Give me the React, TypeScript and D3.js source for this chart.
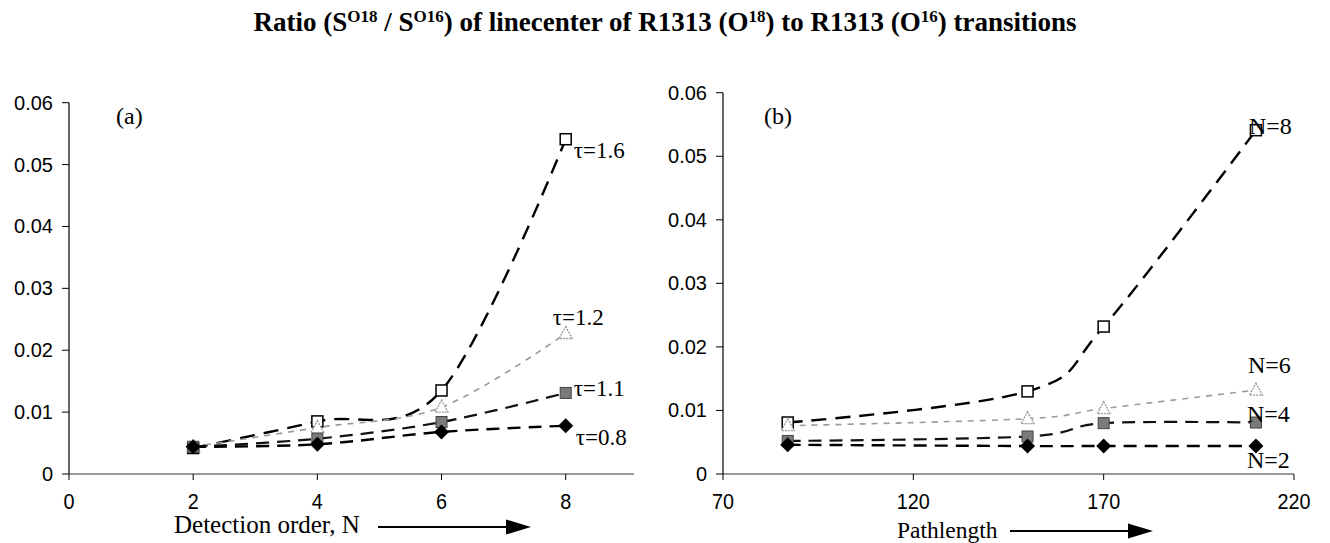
import React from "react";
import * as d3 from "d3";

// ---------- data ----------
const orderN = [2, 4, 6, 8];
const tau16 = [0.0042, 0.0085, 0.0135, 0.0541];
const tau12 = [0.0044, 0.0075, 0.0108, 0.0227];
const tau11 = [0.0044, 0.0057, 0.0084, 0.0131];
const tau08 = [0.0044, 0.0048, 0.0068, 0.0078];
const tauLabels = ["τ=1.6", "τ=1.2", "τ=1.1", "τ=0.8"];

const pathlength = [87, 150, 170, 210];
const n8 = [0.0081, 0.013, 0.0232, 0.0541];
const n6 = [0.0076, 0.0087, 0.0103, 0.0132];
const n4 = [0.0052, 0.0059, 0.008, 0.0081];
const n2 = [0.0046, 0.0044, 0.0044, 0.0044];
const nLabels = ["N=8", "N=6", "N=4", "N=2"];

const yTicks = [0, 0.01, 0.02, 0.03, 0.04, 0.05, 0.06];
const yTickLabels = ["0", "0.01", "0.02", "0.03", "0.04", "0.05", "0.06"];
const xTicksA = [0, 2, 4, 6, 8];
const xTicksB = [70, 120, 170, 220];

// ---------- styles ----------
type Kind = "openSquare" | "triangle" | "graySquare" | "diamond";
const seriesStyle = [
  { kind: "openSquare" as Kind, stroke: "#000", width: 2.4, dash: "15,9" },
  { kind: "triangle" as Kind, stroke: "#9a9a9a", width: 1.6, dash: "6,6" },
  { kind: "graySquare" as Kind, stroke: "#111", width: 2.2, dash: "13,8" },
  { kind: "diamond" as Kind, stroke: "#000", width: 2.4, dash: "13,8" },
];

const SANS = "'Liberation Sans', Arial, sans-serif";
const SERIF = "'Liberation Serif', 'Times New Roman', serif";

function SText({ x, y, sx = 1, children, ...rest }: any) {
  return (
    <text transform={`translate(${x},${y}) scale(${sx},1)`} {...rest}>
      {children}
    </text>
  );
}

function Marker({ kind, x, y }: { kind: Kind; x: number; y: number }) {
  if (kind === "openSquare")
    return <rect x={x - 5.5} y={y - 5.5} width={11} height={11} fill="#fff" stroke="#000" strokeWidth={1.5} />;
  if (kind === "graySquare")
    return <rect x={x - 5.5} y={y - 5.5} width={11} height={11} fill="#7a7a7a" stroke="#444" strokeWidth={1} />;
  if (kind === "triangle")
    return (
      <path d={`M${x},${y - 7}L${x + 6.5},${y + 5}L${x - 6.5},${y + 5}Z`} fill="#fff" stroke="#9a9a9a" strokeWidth={1.3} strokeDasharray="2,1" />
    );
  return <path d={`M${x},${y - 7.5}L${x + 7.5},${y}L${x},${y + 7.5}L${x - 7.5},${y}Z`} fill="#000" />;
}

type PanelProps = {
  x: d3.ScaleLinear<number, number>;
  y: d3.ScaleLinear<number, number>;
  xs: number[];
  series: number[][];
  xTicks: number[];
};

function Panel({ x, y, xs, series, xTicks }: PanelProps) {
  const line = d3
    .line<[number, number]>()
    .x((d) => x(d[0]))
    .y((d) => y(d[1]))
    .curve(d3.curveCatmullRom.alpha(0));
  const [x0, x1] = x.range();
  return (
    <g>
      <line x1={x0} x2={x0} y1={y(0.06)} y2={y(0)} stroke="#000" strokeWidth={1.2} />
      <line x1={x0} x2={x1} y1={y(0)} y2={y(0)} stroke="#333" strokeWidth={1.2} />
      {yTicks.map((t, i) => (
        <g key={"yt" + i}>
          <line x1={x0 - 7} x2={x0} y1={y(t)} y2={y(t)} stroke="#000" strokeWidth={1} />
          <SText x={x0 - 16} y={y(t) + 7} textAnchor="end" fontFamily={SANS} fontSize={20}>
            {yTickLabels[i]}
          </SText>
        </g>
      ))}
      {xTicks.map((t, i) => (
        <g key={"xt" + i}>
          <line x1={x(t)} x2={x(t)} y1={y(0)} y2={y(0) + 6} stroke="#000" strokeWidth={1} />
          <SText x={x(t)} y={y(0) + 35} sx={0.9} textAnchor="middle" fontFamily={SANS} fontSize={22}>
            {t}
          </SText>
        </g>
      ))}
      {series.map((vals, si) => {
        const st = seriesStyle[si];
        const pts = xs.map((v, i) => [v, vals[i]] as [number, number]);
        return (
          <path key={"l" + si} d={line(pts) || ""} fill="none" stroke={st.stroke} strokeWidth={st.width} strokeDasharray={st.dash} />
        );
      })}
      {series.map((vals, si) =>
        xs.map((v, i) => <Marker key={`m${si}-${i}`} kind={seriesStyle[si].kind} x={x(v)} y={y(vals[i])} />)
      )}
    </g>
  );
}

function Arrow({ x1, x2, y }: { x1: number; x2: number; y: number }) {
  return (
    <g>
      <line x1={x1} x2={x2 - 20} y1={y} y2={y} stroke="#000" strokeWidth={2} />
      <path d={`M${x2},${y}L${x2 - 25},${y - 7.5}L${x2 - 25},${y + 7.5}Z`} fill="#000" />
    </g>
  );
}

export default function App() {
  const W = 1330;
  const H = 543;
  const seriesA = [tau16, tau12, tau11, tau08];
  const seriesB = [n8, n6, n4, n2];
  const xa = d3.scaleLinear().domain([0, 9.1]).range([69, 634]);
  const ya = d3.scaleLinear().domain([0, 0.06]).range([474, 102.7]);
  const xb = d3.scaleLinear().domain([70, 220]).range([723, 1294]);
  const yb = d3.scaleLinear().domain([0, 0.06]).range([474, 92.7]);
  const last = orderN.length - 1;
  const sup = 17;
  const fs = 23;
  return (
    <svg width={W} height={H} style={{ position: "absolute", left: 0, top: 0, background: "#fff" }}>
      <rect x={0} y={0} width={W} height={H} fill="#fff" />
      <text x={665} y={31} textAnchor="middle" fontFamily={SERIF} fontWeight="bold" fontSize={27}>
        Ratio (S<tspan baselineShift="super" fontSize={sup}>O18</tspan> / S
        <tspan baselineShift="super" fontSize={sup}>O16</tspan>) of linecenter of R1313 (O
        <tspan baselineShift="super" fontSize={sup}>18</tspan>) to R1313 (O
        <tspan baselineShift="super" fontSize={sup}>16</tspan>) transitions
      </text>

      <Panel x={xa} y={ya} xs={orderN} series={seriesA} xTicks={xTicksA} />
      <Panel x={xb} y={yb} xs={pathlength} series={seriesB} xTicks={xTicksB} />

      <SText x={116} y={124} fontFamily={SERIF} fontSize={24}>(a)</SText>
      <SText x={764} y={124} fontFamily={SERIF} fontSize={24}>(b)</SText>

      {/* series labels (a) */}
      <SText x={xa(orderN[last]) + 8} y={ya(tau16[last]) + 19} fontFamily={SERIF} fontSize={fs}>{tauLabels[0]}</SText>
      <SText x={xa(orderN[last]) - 13} y={ya(tau12[last]) - 9} fontFamily={SERIF} fontSize={fs}>{tauLabels[1]}</SText>
      <SText x={xa(orderN[last]) + 8} y={ya(tau11[last]) + 3} fontFamily={SERIF} fontSize={fs}>{tauLabels[2]}</SText>
      <SText x={xa(orderN[last]) + 10} y={ya(tau08[last]) + 19} fontFamily={SERIF} fontSize={fs}>{tauLabels[3]}</SText>

      {/* series labels (b) */}
      <SText x={xb(pathlength[last]) - 7} y={yb(n8[last]) + 4} fontFamily={SERIF} fontSize={24}>{nLabels[0]}</SText>
      <SText x={xb(pathlength[last]) - 8} y={yb(n6[last]) - 17} fontFamily={SERIF} fontSize={24}>{nLabels[1]}</SText>
      <SText x={xb(pathlength[last]) - 9} y={yb(n4[last]) - 1} fontFamily={SERIF} fontSize={24}>{nLabels[2]}</SText>
      <SText x={xb(pathlength[last]) - 9} y={yb(n2[last]) + 22} fontFamily={SERIF} fontSize={24}>{nLabels[3]}</SText>

      {/* axis titles */}
      <SText x={174} y={533} fontFamily={SERIF} fontSize={25}>Detection order, N</SText>
      <Arrow x1={378} x2={531} y={527} />
      <SText x={897} y={538} fontFamily={SERIF} fontSize={23.5}>Pathlength</SText>
      <Arrow x1={1010} x2={1153} y={531} />
    </svg>
  );
}
